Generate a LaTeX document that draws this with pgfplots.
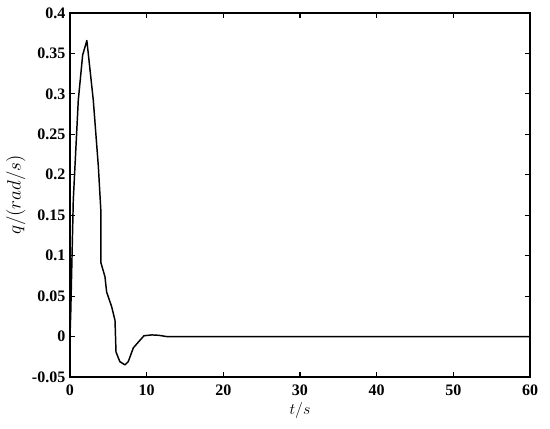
\documentclass[border=0pt]{standalone}
\usepackage{fontspec}
\setmainfont{Liberation Serif}
\usepackage{pgfplots}
\pgfplotsset{compat=1.18}
\begin{document}
\begin{tikzpicture}
\begin{axis}[
  scale only axis,
  width=345pt, height=273pt,
  xmin=0, xmax=60, ymin=-0.05, ymax=0.4,
  xtick={0,10,20,30,40,50,60},
  ytick={-0.05,0,0.05,0.1,0.15,0.2,0.25,0.3,0.35,0.4},
  tick align=inside,
  major tick length=4pt,
  axis line style={line width=0.9pt},
  tick style={line width=0.8pt, black},
  /pgf/number format/assume math mode=true,
  /pgf/number format/fixed,
  /pgf/number format/precision=2,
  ticklabel style={font=\fontsize{12}{14}\selectfont\bfseries},
  xticklabel style={yshift=-2pt},
  xlabel={$t/s$},
  ylabel={$q/(rad/s)$},
  xlabel style={font=\fontsize{13}{15}\selectfont, yshift=1pt},
  ylabel style={font=\fontsize{15}{17}\selectfont, yshift=-2pt},
]
\addplot[black, line width=1.1pt, line join=round] coordinates {
(0,0) (0.1,0.03) (0.43,0.169) (1.08,0.292) (1.65,0.348) (2.2,0.366)
(3.04,0.292) (3.7,0.21) (4.04,0.153) (4.04,0.091) (4.56,0.074)
(4.78,0.055) (5.43,0.037) (5.87,0.020) (6.0,-0.019) (6.5,-0.031)
(7.17,-0.035) (7.6,-0.031) (8.26,-0.014) (8.9,-0.007) (9.65,0.001)
(10.7,0.002) (11.6,0.0015) (12.6,0) (20,0) (30,0) (40,0) (50,0) (60,0)
};
\end{axis}
\path (current axis.south west) ++(-52.5pt,-39pt);
\path (current axis.north east) ++(15pt,9.75pt);
\end{tikzpicture}
\end{document}
